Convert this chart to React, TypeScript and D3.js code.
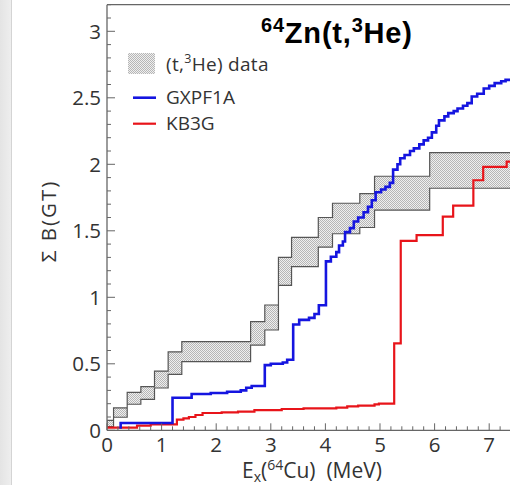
import React from 'react';
import * as d3 from 'd3';

const xTickValues = [0, 1, 2, 3, 4, 5, 6, 7];
const xTickLabels = ['0', '1', '2', '3', '4', '5', '6', '7'];
const yTickValues = [0, 0.5, 1, 1.5, 2, 2.5, 3];
const yTickLabels = ['0', '0.5', '1', '1.5', '2', '2.5', '3'];

// (t,3He) data band: step edges with upper / lower cumulative B(GT)
const bandEdges = [0, 0.12, 0.37, 0.62, 0.87, 1.12, 1.37, 2.63, 2.89, 3.14, 3.38, 3.87, 4.13, 4.63, 4.9, 5.91];
const bandUpper = [0.075, 0.168, 0.285, 0.328, 0.445, 0.59, 0.666, 0.817, 0.942, 1.3, 1.45, 1.6, 1.707, 1.78, 1.91, 2.088];
const bandLower = [0.027, 0.098, 0.196, 0.232, 0.318, 0.42, 0.516, 0.641, 0.754, 1.09, 1.23, 1.378, 1.478, 1.525, 1.656, 1.82];

// GXPF1A running sum
const gxpfX = [0.25, 0.25, 1.2, 1.55, 1.9, 2.2, 2.45, 2.55, 2.65, 2.89, 3.0, 3.22, 3.3, 3.41, 3.52, 3.7, 3.8, 3.88, 4.01, 4.1, 4.2, 4.25, 4.32, 4.36, 4.45, 4.52, 4.6, 4.7, 4.78, 4.85, 4.92, 5.02, 5.1, 5.18, 5.24, 5.32, 5.37, 5.45, 5.55, 5.62, 5.72, 5.8, 5.88, 5.95, 6.03, 6.08, 6.18, 6.25, 6.35, 6.42, 6.52, 6.6, 6.68, 6.78, 6.9, 7.0, 7.1, 7.22, 7.3];
const gxpfY = [0.012, 0.055, 0.245, 0.273, 0.28, 0.29, 0.3, 0.32, 0.333, 0.49, 0.5, 0.51, 0.53, 0.795, 0.83, 0.845, 0.875, 0.94, 1.27, 1.305, 1.34, 1.39, 1.42, 1.49, 1.52, 1.57, 1.6, 1.64, 1.68, 1.73, 1.79, 1.81, 1.83, 1.86, 1.96, 2.0, 2.045, 2.07, 2.1, 2.12, 2.15, 2.18, 2.2, 2.24, 2.29, 2.33, 2.36, 2.385, 2.4, 2.42, 2.44, 2.46, 2.51, 2.53, 2.57, 2.59, 2.61, 2.625, 2.635];

// KB3G running sum
const kb3gX = [0, 0.55, 0.8, 1.28, 1.4, 1.5, 1.62, 1.75, 2.1, 2.4, 2.7, 3.2, 3.6, 4.2, 4.4, 4.6, 4.9, 4.98, 5.26, 5.38, 5.67, 6.15, 6.34, 6.71, 6.89, 7.32];
const kb3gY = [0.02, 0.035, 0.045, 0.08, 0.09, 0.1, 0.115, 0.13, 0.135, 0.14, 0.152, 0.16, 0.165, 0.17, 0.18, 0.185, 0.195, 0.2, 0.654, 1.425, 1.468, 1.606, 1.69, 1.88, 1.98, 2.02];

const xEnd = 7.5;

const W = 510;
const H = 485;
const x = d3.scaleLinear().domain([0, 7.381]).range([107, 510]);
const y = d3.scaleLinear().domain([0, 3.2]).range([430.3, 4.7]);

const font = "'Open Sans', 'Noto Sans', sans-serif";
const textColor = '#333';
const axisColor = '#666';

type P = [number, number];

export default function App() {
  const step = d3
    .line<P>()
    .x((d) => x(d[0]))
    .y((d) => y(d[1]))
    .curve(d3.curveStepAfter);

  const bandPts = bandEdges.map((e, i) => ({ e, u: bandUpper[i], l: bandLower[i] }));
  bandPts.push({ e: xEnd, u: bandUpper[bandUpper.length - 1], l: bandLower[bandLower.length - 1] });
  const area = d3
    .area<{ e: number; u: number; l: number }>()
    .x((d) => x(d.e))
    .y0((d) => y(d.l))
    .y1((d) => y(d.u))
    .curve(d3.curveStepAfter);

  const bluePts: P[] = gxpfX.map((v, i) => [v, gxpfY[i]] as P);
  bluePts.push([xEnd, gxpfY[gxpfY.length - 1]]);
  const redPts: P[] = kb3gX.map((v, i) => [v, kb3gY[i]] as P);
  redPts.push([xEnd, kb3gY[kb3gY.length - 1]]);

  const xMinor = d3.range(0, 7.4001, 0.2).filter((v) => Math.abs(v - Math.round(v)) > 1e-6);
  const yMinor = d3.range(0, 3.2001, 0.1).filter((v) => Math.abs(v * 2 - Math.round(v * 2)) > 1e-6);

  const x0 = x(0);
  const y0 = y(0);

  return (
    <svg width={W} height={H} style={{ position: 'absolute', left: 0, top: 0, background: '#fff' }}>
      <defs>
        <pattern id="chk" width="2" height="2" patternUnits="userSpaceOnUse">
          <rect width="2" height="2" fill="#efefef" />
          <rect width="1" height="1" fill="#b6b6b6" />
          <rect x="1" y="1" width="1" height="1" fill="#b6b6b6" />
        </pattern>
        <clipPath id="plotClip">
          <rect x={x0} y={y(3.2)} width={W - x0} height={y0 - y(3.2)} />
        </clipPath>
        <linearGradient id="leftStrip" x1="0" x2="1" y1="0" y2="0">
          <stop offset="0" stopColor="#e4e4e4" />
          <stop offset="1" stopColor="#eeeeee" />
        </linearGradient>
      </defs>
      <rect x={0} y={0} width={W} height={H} fill="#fff" />
      <rect x={0} y={0} width={11} height={H} fill="url(#leftStrip)" />
      <line x1={11.5} x2={11.5} y1={0} y2={H} stroke="#d4d4d4" strokeWidth={1} />

      <g clipPath="url(#plotClip)">
        <path d={area(bandPts) || ''} fill="url(#chk)" stroke="#555" strokeWidth={1.2} />
        <path d={step(redPts) || ''} fill="none" stroke="#e8141a" strokeWidth={2.2} />
        <path d={step(bluePts) || ''} fill="none" stroke="#1515e0" strokeWidth={2.6} />
      </g>

      {/* frame */}
      <line x1={x0} x2={x0} y1={y(3.2)} y2={y0} stroke={axisColor} strokeWidth={1.3} />
      <line x1={x0} x2={W} y1={y(3.2)} y2={y(3.2)} stroke={axisColor} strokeWidth={1.3} />
      <line x1={x0} x2={W} y1={y0} y2={y0} stroke={axisColor} strokeWidth={1.3} />

      {/* y ticks */}
      {yTickValues.map((v) => (
        <line key={'ym' + v} x1={x0} x2={x0 + 8} y1={y(v)} y2={y(v)} stroke={axisColor} strokeWidth={1} />
      ))}
      {yMinor.map((v) => (
        <line key={'yn' + v} x1={x0} x2={x0 + 4} y1={y(v)} y2={y(v)} stroke={axisColor} strokeWidth={1} />
      ))}
      {yTickValues.map((v, i) => (
        <text key={'yl' + v} x={101} y={y(v)} dy="0.36em" textAnchor="end" fontFamily={font} fontSize={20.5} fill={textColor}>
          {yTickLabels[i]}
        </text>
      ))}

      {/* x ticks */}
      {xTickValues.map((v) => (
        <line key={'xm' + v} x1={x(v)} x2={x(v)} y1={y0} y2={y0 - 7} stroke={axisColor} strokeWidth={1} />
      ))}
      {xMinor.map((v) => (
        <line key={'xn' + v} x1={x(v)} x2={x(v)} y1={y0} y2={y0 - 4} stroke={axisColor} strokeWidth={1} />
      ))}
      {xTickValues.map((v, i) => (
        <text key={'xl' + v} x={x(v)} y={452} textAnchor="middle" fontFamily={font} fontSize={20.5} fill={textColor}>
          {xTickLabels[i]}
        </text>
      ))}

      {/* axis titles */}
      <text
        transform={`translate(56, 221) rotate(-90)`}
        textAnchor="middle"
        fontFamily={font}
        fontSize={20.5}
        fill={textColor}
        letterSpacing={2}
        style={{ whiteSpace: 'pre' }}
      >
        Σ B(GT)
      </text>
      <text x={312} y={478} textAnchor="middle" fontFamily={font} fontSize={21} fill={textColor} style={{ whiteSpace: 'pre' }}>
        E
        <tspan fontSize={14} dy={4}>x</tspan>
        <tspan dy={-4}>(</tspan>
        <tspan fontSize={14} dy={-8}>64</tspan>
        <tspan dy={8}>{'Cu)  (MeV)'}</tspan>
      </text>

      {/* title */}
      <text x={261} y={43} fontFamily="'Liberation Sans', Arial, sans-serif" fontWeight="bold" fontSize={29} fill="#000" letterSpacing={0.8}>
        <tspan fontSize={20} dy={-11}>64</tspan>
        <tspan dy={11}>Zn(t,</tspan>
        <tspan fontSize={20} dy={-11}>3</tspan>
        <tspan dy={11}>He)</tspan>
      </text>

      {/* legend */}
      <rect x={128} y={53} width={27} height={21} fill="url(#chk)" />
      <text x={166} y={71} fontFamily={font} fontSize={19} fill={textColor} style={{ whiteSpace: 'pre' }} letterSpacing={0.3}>
        (t,
        <tspan fontSize={12.5} dy={-8}>3</tspan>
        <tspan dy={8}>He) data</tspan>
      </text>
      <line x1={133} x2={156} y1={97.7} y2={97.7} stroke="#1515e0" strokeWidth={2.6} />
      <text x={166} y={104} fontFamily={font} fontSize={19} fill={textColor}>
        GXPF1A
      </text>
      <line x1={133} x2={156} y1={123.7} y2={123.7} stroke="#e8141a" strokeWidth={2.2} />
      <text x={166} y={130} fontFamily={font} fontSize={19} fill={textColor}>
        KB3G
      </text>
    </svg>
  );
}
